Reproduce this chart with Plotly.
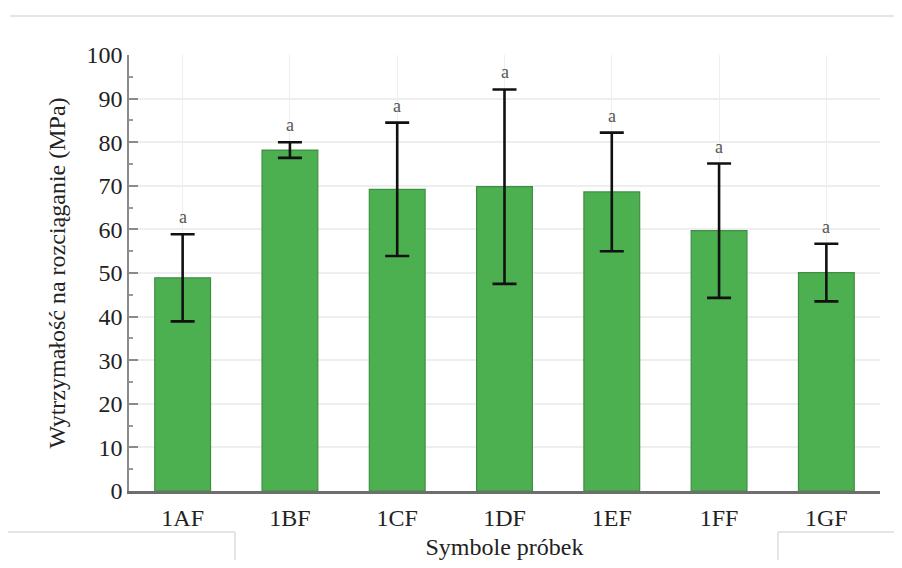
import plotly.graph_objects as go

categories = ["1AF", "1BF", "1CF", "1DF", "1EF", "1FF", "1GF"]
means = [48.9, 78.2, 69.2, 69.8, 68.6, 59.7, 50.1]
errors = [10.0, 1.8, 15.3, 22.3, 13.6, 15.4, 6.6]
letters = ["a", "a", "a", "a", "a", "a", "a"]

# page has an 8px body margin, so the figure is 16px smaller than the window
OFF = 8
W, H = 902 - 2 * OFF, 568 - 2 * OFF
ML, MR, MT, MB = 121, 14, 47, 69
PW, PH = W - ML - MR, H - MT - MB

SERIF = "Liberation Serif, Times New Roman, serif"

fig = go.Figure()
fig.add_trace(go.Bar(
    x=categories, y=means,
    marker=dict(color="#4caf50", line=dict(color="#3f8f43", width=1.2)),
    width=0.52,
    error_y=dict(type="data", array=errors, visible=True,
                 color="#111111", thickness=2.6, width=12),
    showlegend=False,
))

for c, m, e, t in zip(categories, means, errors, letters):
    fig.add_annotation(x=c, y=m + e, text=t, showarrow=False,
                       yanchor="bottom", yshift=5,
                       font=dict(family=SERIF, size=18, color="#555555"))

font = dict(family=SERIF, size=24, color="#222222")
tfont = dict(family=SERIF, size=24, color="#222222")
fig.update_layout(
    width=W, height=H,
    margin=dict(l=ML, r=MR, t=MT, b=MB, autoexpand=False),
    paper_bgcolor="white", plot_bgcolor="white",
    font=font,
    xaxis=dict(
        automargin=False,
        showgrid=True, gridcolor="#eeeeee", gridwidth=1,
        showline=True, linecolor="#6e6e6e", linewidth=2.5,
        ticks="", ticklabelstandoff=3,
        tickfont=font,
        title=dict(text="Symbole próbek", font=tfont, standoff=10),
    ),
    yaxis=dict(
        automargin=False,
        range=[0, 100], dtick=10,
        showgrid=True, gridcolor="#eeeeee", gridwidth=1.5,
        showline=True, linecolor="#8a8a8a", linewidth=1.5,
        ticks="inside", ticklen=9, tickcolor="#8a8a8a", tickwidth=1.5,
        minor=dict(dtick=5, ticks="inside", ticklen=4, tickcolor="#9a9a9a", showgrid=False),
        zeroline=False,
        tickfont=font,
        title=dict(text="Wytrzymałość na rozciąganie (MPa)", font=tfont, standoff=14),
    ),
)

# faint frame artifacts from the source image (page pixel positions)
def px(x):
    return (x - OFF - ML) / PW

def py(y):
    return (H - MB - (y - OFF)) / PH

line = dict(color="#dddddd", width=1.5)
for x0, y0, x1, y1 in [(10, 16, 900, 16), (8, 532, 235, 532), (235, 532, 235, 568),
                       (778, 532, 778, 568), (778, 532, 902, 532)]:
    fig.add_shape(type="line", xref="paper", yref="paper",
                  x0=px(x0), y0=py(y0), x1=px(x1), y1=py(y1), line=line, layer="below")

fig.write_html("out.html")
